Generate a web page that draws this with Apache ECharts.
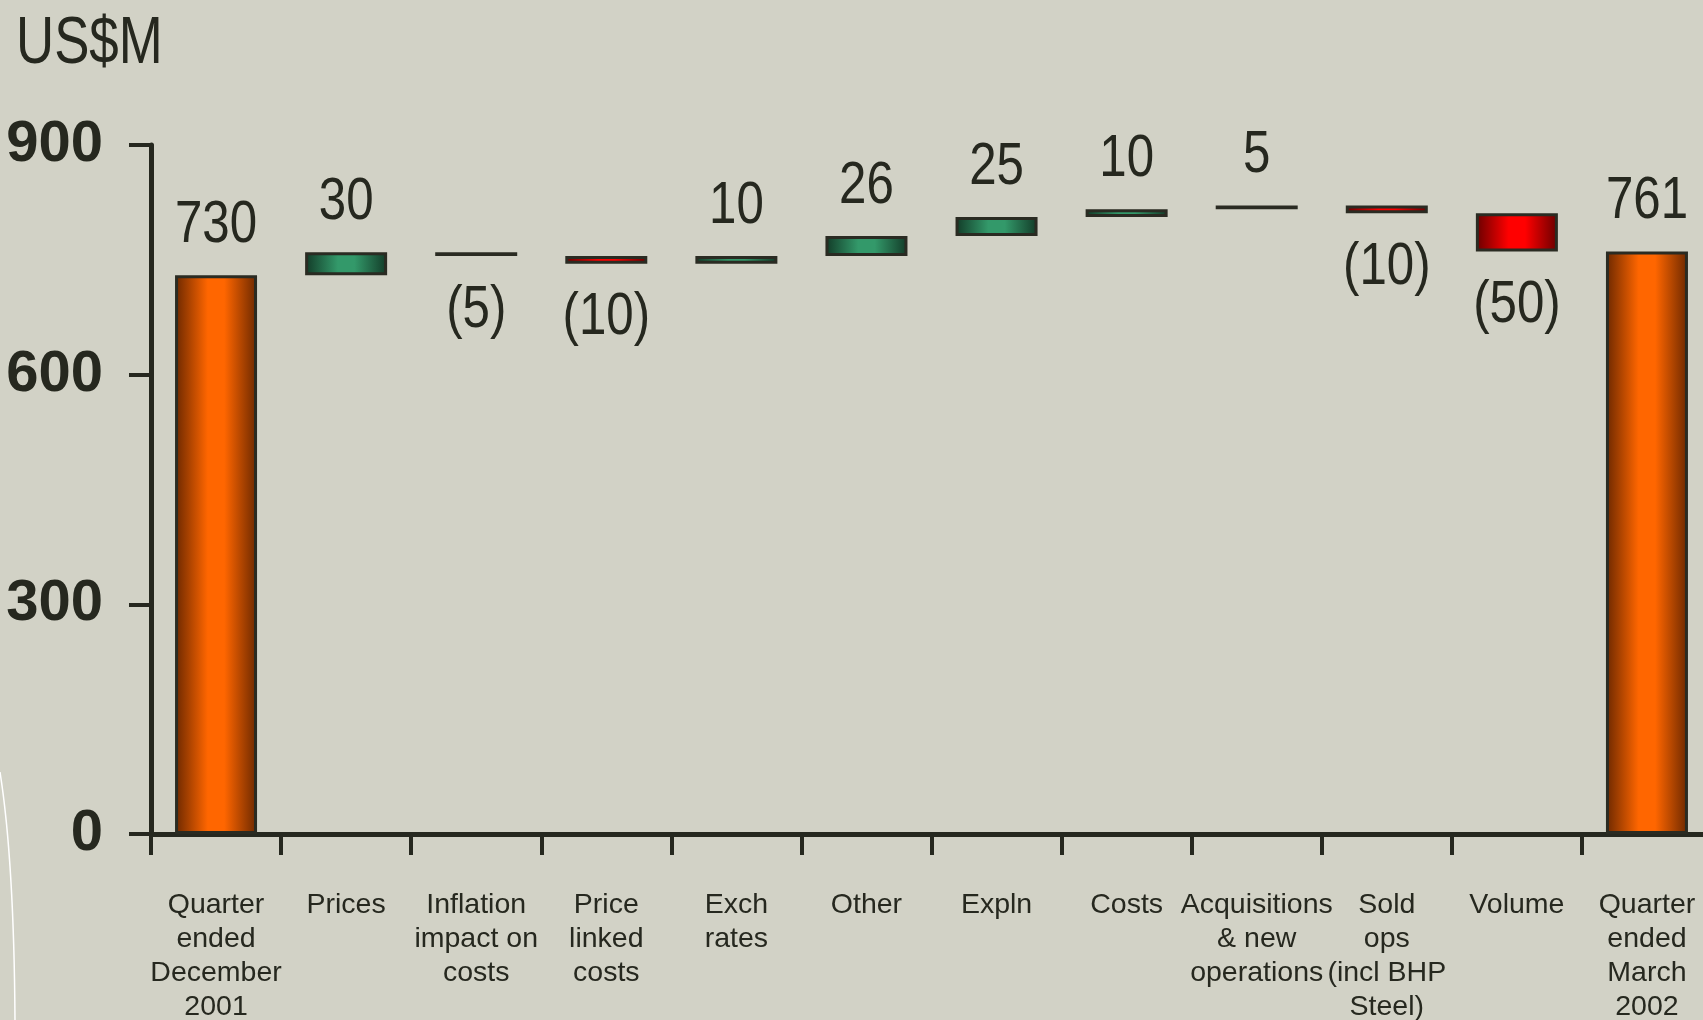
<!DOCTYPE html>
<html>
<head>
<meta charset="utf-8">
<script src="https://cdn.jsdelivr.net/npm/echarts@6/dist/echarts.min.js"></script>
<style>
  html, body { margin: 0; padding: 0; background: #d2d2c6; }
  #chart { width: 1703px; height: 1020px; }
</style>
</head>
<body>
<div id="chart"></div>
<script>
var categories = [
    'Quarter\nended\nDecember\n2001', 'Prices', 'Inflation\nimpact on\ncosts', 'Price\nlinked\ncosts',
    'Exch\nrates', 'Other', 'Expln', 'Costs', 'Acquisitions\n& new\noperations',
    'Sold\nops\n(incl BHP\nSteel)', 'Volume', 'Quarter\nended\nMarch\n2002'
];
// first and last are totals, the rest are changes
var changes = [730, 30, -5, -10, 10, 26, 25, 10, 5, -10, -50, 761];
var isTotal = [true, false, false, false, false, false, false, false, false, false, false, true];
var yTicks = [0, 300, 600, 900];

var textColor = '#26281f';
var fontMain = '"Liberation Sans", Arial, sans-serif';

// build the waterfall stacks
var base = [], totals = [], ups = [], downs = [], labelAnchor = [];
var running = 0;
changes.forEach(function (v, i) {
    if (isTotal[i]) {
        base.push(0); totals.push(v); ups.push('-'); downs.push('-');
        running = v;
        labelAnchor.push([i, v]);
    } else if (v >= 0) {
        base.push(running); ups.push(v); totals.push('-'); downs.push('-');
        running += v;
        labelAnchor.push([i, running]);
    } else {
        running += v;
        base.push(running); downs.push(-v); totals.push('-'); ups.push('-');
        labelAnchor.push([i, running]);
    }
});

function grad(edge, mid) {
    return new echarts.graphic.LinearGradient(0, 0, 1, 0, [
        {offset: 0, color: edge},
        {offset: 0.4, color: mid},
        {offset: 0.6, color: mid},
        {offset: 1, color: edge}
    ]);
}

var barBorder = {borderColor: '#2a2b22', borderWidth: 3};

var option = {
    backgroundColor: '#d2d2c6',
    animation: false,
    grid: {left: 151, top: 145, width: 1561, height: 689, outerBoundsMode: 'none', containLabel: false},
    xAxis: {
        type: 'category',
        data: categories,
        axisLine: {lineStyle: {color: '#26281f', width: 5}},
        axisTick: {show: true, length: 21, lineStyle: {color: '#26281f', width: 4}},
        axisLabel: {
            interval: 0,
            margin: 54,
            fontFamily: fontMain,
            fontSize: 28.5,
            lineHeight: 34,
            color: textColor,
            verticalAlign: 'top'
        }
    },
    yAxis: {
        type: 'value',
        min: 0,
        max: 900,
        interval: 300,
        splitLine: {show: false},
        axisLine: {show: true, lineStyle: {color: '#26281f', width: 5}},
        axisTick: {show: true, length: 22, lineStyle: {color: '#26281f', width: 4}},
        axisLabel: {
            margin: 48,
            fontFamily: fontMain,
            fontSize: 58,
            fontWeight: 'bold',
            color: textColor,
            formatter: function (v) { return yTicks.indexOf(v) >= 0 ? String(v) : ''; }
        }
    },
    graphic: [{
        type: 'text',
        left: 16,
        top: 12,
        scaleX: 0.8,
        style: {text: 'US$M', font: '66px "Liberation Sans", Arial, sans-serif', fill: textColor}
    }, {
        type: 'bezierCurve',
        shape: {x1: 0, y1: 772, cpx1: 14, cpy1: 860, x2: 15, y2: 1020},
        style: {stroke: '#ffffff', lineWidth: 1.5, fill: null},
        silent: true
    }],
    series: [
        {
            name: 'base', type: 'bar', stack: 'w', barWidth: 82,
            itemStyle: {color: 'transparent'},
            emphasis: {disabled: true},
            data: base
        },
        {
            name: 'total', type: 'bar', stack: 'w', barWidth: 82,
            itemStyle: Object.assign({color: grad('#6b2800', '#ff6600')}, barBorder),
            data: totals
        },
        {
            name: 'increase', type: 'bar', stack: 'w', barWidth: 82,
            itemStyle: Object.assign({color: grad('#123a27', '#33996a')}, barBorder),
            data: ups
        },
        {
            name: 'decrease', type: 'bar', stack: 'w', barWidth: 82,
            itemStyle: Object.assign({color: grad('#680000', '#ff0000')}, barBorder),
            data: downs
        },
        {
            // value labels, narrowed like the original condensed face
            name: 'labels', type: 'custom', silent: true, z: 5,
            data: labelAnchor,
            renderItem: function (params, api) {
                var i = api.value(0);
                var p = api.coord([i, api.value(1)]);
                var v = changes[i];
                var neg = v < 0;
                return {
                    type: 'text',
                    x: p[0],
                    y: neg ? p[1] + 24 : p[1] - 20,
                    scaleX: 0.82,
                    style: {
                        text: neg ? '(' + (-v) + ')' : String(v),
                        font: '60px "Liberation Sans", Arial, sans-serif',
                        fill: textColor,
                        align: 'center',
                        verticalAlign: neg ? 'top' : 'bottom'
                    }
                };
            }
        }
    ]
};

echarts.init(document.getElementById('chart')).setOption(option);
</script>
</body>
</html>
